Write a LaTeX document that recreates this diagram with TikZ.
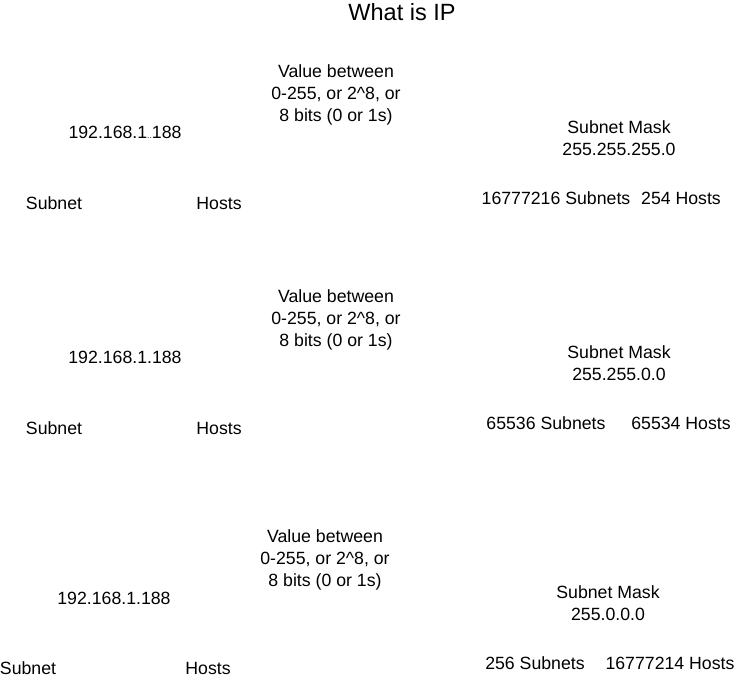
\documentclass[tikz,border=0pt]{standalone}
\usepackage{fontspec}
\setmainfont{Liberation Sans}
\begin{document}
\begin{tikzpicture}[x=1pt,y=-1pt,
  lbl/.style={inner sep=0pt,align=center,font=\fontsize{17.7}{22}\selectfont},
  ttl/.style={inner sep=0pt,font=\fontsize{23.5}{28}\selectfont}]
\useasboundingbox (0,0) rectangle (746,681);
\node[ttl] (title) at (402,12) {What is IP};
% row 1
\node[lbl] (val1) at (336,95) {Value between\\0-255, or 2\textasciicircum 8, or\\8 bits (0 or 1s)};
\node[lbl] (ip1) at (125,132) {192.168.1{\fontsize{8.5}{9}\selectfont..}188};
\node[lbl] (sub1) at (54,203) {Subnet};
\node[lbl] (host1) at (219,203) {Hosts};
\node[lbl] (mask1) at (619,138) {Subnet Mask\\255.255.255.0};
\node[lbl] (ns1) at (556,198) {16777216 Subnets};
\node[lbl] (nh1) at (681,198) {254 Hosts};
% row 2
\node[lbl] (val2) at (336,320) {Value between\\0-255, or 2\textasciicircum 8, or\\8 bits (0 or 1s)};
\node[lbl] (ip2) at (125,357) {192.168.1.188};
\node[lbl] (sub2) at (54,428) {Subnet};
\node[lbl] (host2) at (219,428) {Hosts};
\node[lbl] (mask2) at (619,363) {Subnet Mask\\255.255.0.0};
\node[lbl] (ns2) at (546,423) {65536 Subnets};
\node[lbl] (nh2) at (681,423) {65534 Hosts};
% row 3
\node[lbl] (val3) at (325,560) {Value between\\0-255, or 2\textasciicircum 8, or\\8 bits (0 or 1s)};
\node[lbl] (ip3) at (114,598) {192.168.1.188};
\node[lbl] (sub3) at (28,668) {Subnet};
\node[lbl] (host3) at (208,668) {Hosts};
\node[lbl] (mask3) at (608,603) {Subnet Mask\\255.0.0.0};
\node[lbl] (ns3) at (535,663) {256 Subnets};
\node[lbl] (nh3) at (670,663) {16777214 Hosts};
\end{tikzpicture}
\end{document}
